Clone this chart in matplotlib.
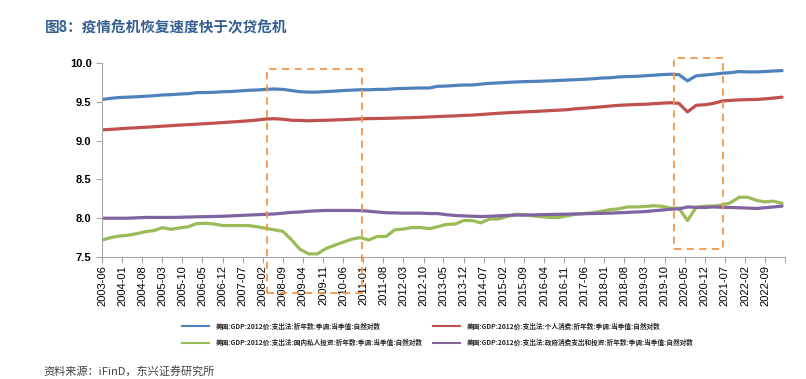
import numpy as np
import pandas as pd
import matplotlib
matplotlib.use('Agg')
import matplotlib.pyplot as plt
from matplotlib.patches import Rectangle
from matplotlib.lines import Line2D

plt.rcParams['font.family'] = ['Liberation Sans', 'Noto Sans CJK SC', 'DejaVu Sans']

# 季度数据 2003-06 ... 2023-03
quarters = pd.date_range('2003-06-01', '2023-03-01', freq='3MS')

gdp = [9.530, 9.545, 9.555,
       9.560, 9.565, 9.572, 9.578,
       9.588, 9.592, 9.600, 9.605,
       9.618, 9.620, 9.622, 9.630,
       9.632, 9.640, 9.648, 9.652,
       9.660, 9.665, 9.660, 9.645,
       9.630, 9.625, 9.625, 9.632,
       9.637, 9.645, 9.650, 9.655,
       9.655, 9.660, 9.660, 9.668,
       9.672, 9.676, 9.678, 9.678,
       9.700, 9.703, 9.710, 9.717,
       9.716, 9.728, 9.738, 9.743,
       9.750, 9.755, 9.760, 9.762,
       9.766, 9.770, 9.775, 9.780,
       9.785, 9.790, 9.797, 9.806,
       9.810, 9.820, 9.826, 9.828,
       9.835, 9.842, 9.850, 9.855,
       9.850, 9.770, 9.835, 9.845,
       9.855, 9.868, 9.875, 9.890,
       9.885, 9.885, 9.890, 9.897,
       9.902]

consumption = [9.138, 9.145, 9.152,
               9.160, 9.165, 9.172, 9.178,
               9.186, 9.192, 9.200, 9.205,
               9.212, 9.218, 9.225, 9.232,
               9.240, 9.247, 9.255, 9.265,
               9.278, 9.282, 9.275, 9.262,
               9.260, 9.255, 9.260, 9.262,
               9.266, 9.270, 9.275, 9.280,
               9.283, 9.285, 9.287, 9.290,
               9.293, 9.296, 9.300, 9.305,
               9.310, 9.315, 9.318, 9.325,
               9.328, 9.336, 9.344, 9.352,
               9.358, 9.364, 9.370, 9.374,
               9.380, 9.386, 9.392, 9.398,
               9.410, 9.418, 9.426, 9.435,
               9.445, 9.455, 9.460, 9.465,
               9.468, 9.475, 9.482, 9.488,
               9.480, 9.370, 9.455, 9.462,
               9.478, 9.510, 9.518, 9.525,
               9.528, 9.530, 9.538, 9.548,
               9.560]

investment = [7.717, 7.750, 7.770,
              7.780, 7.800, 7.826, 7.840,
              7.878, 7.857, 7.875, 7.890,
              7.930, 7.935, 7.925, 7.905,
              7.905, 7.905, 7.905, 7.890,
              7.870, 7.850, 7.830, 7.720,
              7.600, 7.540, 7.540, 7.610,
              7.650, 7.690, 7.730, 7.750,
              7.720, 7.765, 7.765, 7.850,
              7.860, 7.880, 7.880, 7.865,
              7.890, 7.920, 7.925, 7.970,
              7.970, 7.940, 7.990, 7.990,
              8.020, 8.050, 8.045, 8.030,
              8.020, 8.010, 8.010, 8.030,
              8.050, 8.060, 8.070, 8.090,
              8.110, 8.120, 8.145, 8.145,
              8.150, 8.160, 8.155, 8.130,
              8.130, 7.970, 8.140, 8.155,
              8.155, 8.170, 8.200, 8.270,
              8.270, 8.230, 8.210, 8.220,
              8.190]

government = [8.000, 8.000, 8.000,
              8.000, 8.005, 8.010, 8.010,
              8.010, 8.010, 8.012, 8.015,
              8.018, 8.020, 8.022, 8.025,
              8.030, 8.035, 8.040, 8.045,
              8.050, 8.055, 8.065, 8.075,
              8.080, 8.090, 8.095, 8.100,
              8.100, 8.100, 8.100, 8.098,
              8.090, 8.080, 8.070, 8.068,
              8.065, 8.065, 8.065, 8.060,
              8.060, 8.045, 8.035, 8.030,
              8.025, 8.022, 8.025, 8.030,
              8.035, 8.040, 8.040, 8.042,
              8.045, 8.048, 8.050, 8.052,
              8.055, 8.058, 8.060, 8.062,
              8.065, 8.070, 8.075, 8.080,
              8.085, 8.095, 8.105, 8.115,
              8.120, 8.145, 8.140, 8.138,
              8.145, 8.140, 8.138, 8.135,
              8.130, 8.125, 8.135, 8.145,
              8.155]

labels = ['美国:GDP:2012价:支出法:折年数:季调:当季值:自然对数',
          '美国:GDP:2012价:支出法:个人消费:折年数:季调:当季值:自然对数',
          '美国:GDP:2012价:支出法:国内私人投资:折年数:季调:当季值:自然对数',
          '美国:GDP:2012价:支出法:政府消费支出和投资:折年数:季调:当季值:自然对数']
colors = ['#4F81BD', '#C0504D', '#9BBB59', '#8064A2']

W, H = 806, 379
fig = plt.figure(figsize=(W / 100, H / 100), dpi=100)
ax = fig.add_axes([102 / W, 1 - 257 / H, (785 - 102) / W, (257 - 63) / H])

series = [gdp, consumption, investment, government]
for vals, c in zip(series, colors):
    ax.plot(quarters, vals, color=c, lw=2.3, solid_capstyle='round')

ax.set_ylim(7.5, 10.0)
ax.set_yticks(np.arange(7.5, 10.01, 0.5))
ax.yaxis.set_major_formatter(matplotlib.ticker.FormatStrFormatter('%.1f'))
for t in ax.get_yticklabels():
    t.set_fontweight('bold')
    t.set_fontsize(8)

xticks = pd.date_range('2003-06-01', '2023-04-01', freq='7MS')
ax.set_xlim(xticks[0], xticks[-1])
ax.set_xticks(xticks)
ax.set_xticklabels([d.strftime('%Y-%m') for d in xticks[:-1]] + [''],
                   rotation=90, fontsize=8)

for s in ['top', 'right']:
    ax.spines[s].set_visible(False)
for s in ['left', 'bottom']:
    ax.spines[s].set_color('#A6A6A6')
ax.tick_params(axis='both', colors='#A6A6A6', length=4, labelcolor='black')
ax.tick_params(axis='x', pad=2)

# 标注框
dash = dict(fill=False, ec='#F79646', lw=1.3, ls=(0, (4, 3)),
            transform=fig.transFigure, clip_on=False, zorder=5)
fig.patches.append(Rectangle((266.7 / W, 1 - 293.3 / H), 95.3 / W, 224 / H, **dash))
fig.patches.append(Rectangle((674 / W, 1 - 249 / H), 48.7 / W, 190.7 / H, **dash))

# 图例：两列
cjk = {'family': ['Noto Sans CJK SC', 'DejaVu Sans'], 'size': 4.8, 'weight': 'bold'}
handles = [Line2D([], [], color=c, lw=1.5) for c in colors]
leg_kw = dict(loc='upper left', frameon=False, prop=cjk, handlelength=4.1,
              handletextpad=0.9, borderpad=0, borderaxespad=0, labelspacing=1.35)
leg1 = fig.legend([handles[0], handles[2]], [labels[0], labels[2]],
                  bbox_to_anchor=(182 / W, 1 - 322.5 / H), **leg_kw)
leg2 = fig.legend([handles[1], handles[3]], [labels[1], labels[3]],
                  bbox_to_anchor=(433 / W, 1 - 322.5 / H), **leg_kw)
for leg in (leg1, leg2):
    for t in leg.get_texts():
        t.set_color('#262626')

fig.text(45 / W, 1 - 27 / H, '图8：疫情危机恢复速度快于次贷危机',
         family=['Noto Sans CJK SC', 'DejaVu Sans'], fontsize=10.5,
         fontweight='bold', color='#365F91', va='center')
fig.text(43 / W, 1 - 366 / H, '资料来源：iFinD，东兴证券研究所',
         family=['Noto Sans CJK SC', 'DejaVu Sans'], fontsize=8,
         color='#404040', va='top')

fig.savefig('out.png', dpi=100)
